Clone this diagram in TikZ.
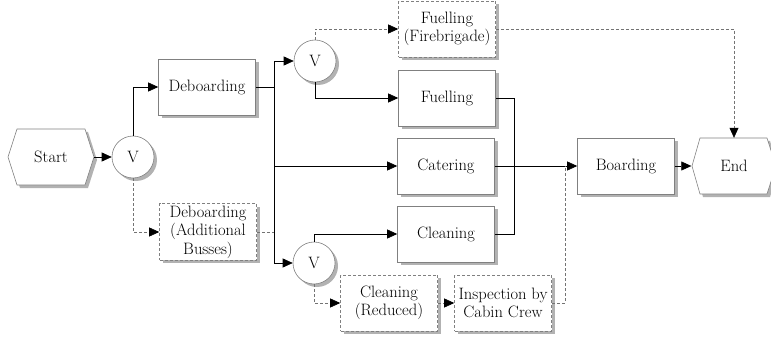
\documentclass[tikz,border=0pt]{standalone}
\usepackage{fontspec}
\setmainfont{Latin Modern Roman}
\usetikzlibrary{shadows,arrows.meta}
\begin{document}
\begin{tikzpicture}[x=1pt,y=-1pt,
  font=\fontsize{16.5}{18.5}\selectfont,
  shadowed/.style={drop shadow={shadow xshift=3pt,shadow yshift=-3pt,fill=black!30,opacity=1}},
  task/.style={draw=black!50, fill=white, minimum width=97pt, minimum height=56pt, align=center, inner sep=2pt, line width=0.6pt, shadowed},
  opttask/.style={task, dash pattern=on 3pt off 2pt},
  gate/.style={circle, draw=black!50, fill=white, minimum size=42pt, inner sep=0pt, line width=0.6pt, shadowed},
  hexlabel/.style={minimum width=85pt, minimum height=56pt, inner sep=0pt},
  hexline/.style={draw=black!50, fill=white, line width=0.6pt, shadowed},
  tip/.style={-{Triangle[length=10pt,width=9pt,color=black]}},
  flow/.style={draw=black, line width=0.6pt},
  optflow/.style={draw=black!55, line width=0.6pt, dash pattern=on 3pt off 2pt},
]
\useasboundingbox (0,0) rectangle (771,342);

% hexagons (start / end)
\path[hexline] (8,157) -- (17,129) -- (85,129) -- (94,157) -- (85,185) -- (17,185) -- cycle;
\node[hexlabel] (start) at (51,157) {Start};
\path[hexline] (692,166) -- (700,138) -- (767,138) -- (776,166) -- (767,194) -- (700,194) -- cycle;
\node[hexlabel] (end) at (734,166) {End};

% gates
\node[gate] (v1) at (133,157) {V};
\node[gate] (v2) at (315,61) {V};
\node[gate] (v3) at (314,263) {V};

% tasks
\node[task] (deb) at (207,87) {Deboarding};
\node[opttask] (debadd) at (208,232) {Deboarding\\(Additional\\Busses)};
\node[opttask] (fuelfb) at (447,29) {Fuelling\\(Firebrigade)};
\node[task] (fuel) at (447,98) {Fuelling};
\node[task] (cat) at (446,166) {Catering};
\node[task] (clean) at (446,234) {Cleaning};
\node[opttask] (cleanred) at (389,303) {Cleaning\\(Reduced)};
\node[opttask] (insp) at (503,303) {Inspection by\\Cabin Crew};
\node[task] (board) at (626,166) {Boarding};

% junction coordinates
\coordinate (j) at (274,87);
\coordinate (k) at (514,98);
\coordinate (m) at (565,166);

% connectors
\draw[flow,tip] (start.east) -- (v1.west);
\draw[flow,tip] (v1.north) |- (deb.west);
\draw[optflow,tip] (v1.south) |- (debadd.west);
\draw[flow] (deb.east) -- (j);
\draw[flow,tip] (j) |- (v2.west);
\draw[flow,tip] (j) |- (v3.west);
\draw[flow,tip] (j |- cat.west) -- (cat.west);
\draw[optflow] (debadd.east) -- (j |- debadd.east);
\draw[optflow,tip] (v2.north) |- (fuelfb.west);
\draw[flow,tip] (v2.south) |- (fuel.west);
\draw[flow] (fuel.east) -- (k) -- (k |- clean.east) -- (clean.east);
\draw[flow,tip] (cat.east) -- (board.west);
\draw[flow,tip] (v3.north) |- (clean.west);
\draw[optflow,tip] (v3.south) |- (cleanred.west);
\draw[optflow,tip] (cleanred.east) -- (insp.west);
\draw[optflow] (insp.east) -| (m);
\draw[optflow,tip] (fuelfb.east) -| (end.north);
\draw[flow,tip] (board.east) -- (end.west);
\end{tikzpicture}
\end{document}
